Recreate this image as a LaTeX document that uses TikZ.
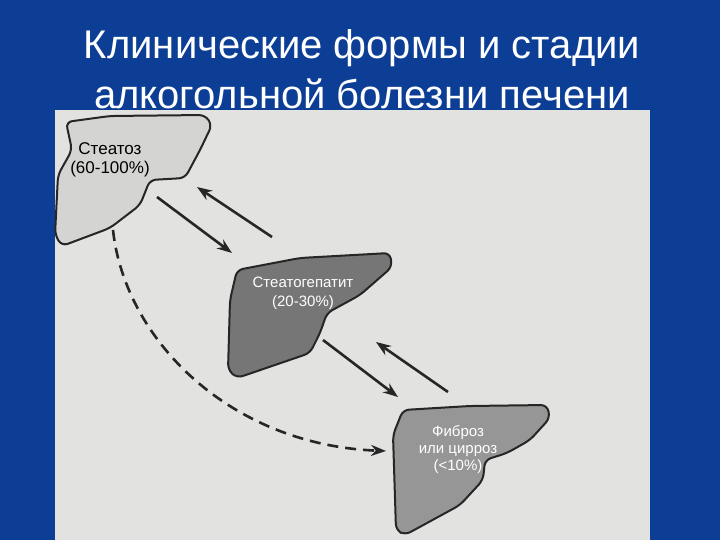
\documentclass[tikz,border=0pt]{standalone}
\usepackage{fontspec}
\setmainfont{Liberation Sans}
\usetikzlibrary{arrows.meta}
\definecolor{slide}{RGB}{12,62,150}
\definecolor{paper}{RGB}{226,226,224}
\definecolor{liverA}{RGB}{212,212,210}
\definecolor{liverB}{RGB}{118,118,118}
\definecolor{liverC}{RGB}{150,150,150}
\tikzset{
  liver/.style={draw=black!85, line width=2pt, rounded corners=6pt},
  arr/.style={-{Stealth[length=15pt,width=11pt]}, line width=2.6pt, black!85},
  darr/.style={arr, dash pattern=on 11pt off 7pt},
  lbl/.style={align=center, font=\fontsize{17}{19}\selectfont},
  title/.style={text=white, font=\fontsize{40}{44}\selectfont}
}
\begin{document}
\begin{tikzpicture}[x=1pt,y=-1pt]
\useasboundingbox (0,0) rectangle (720,540);
\fill[slide] (0,0) rectangle (720,540);
\node[title] (t1) at (362,48) {Клинические формы и стадии};
\node[title] (t2) at (362,94) {алкогольной болезни печени};
\fill[paper] (55,110) rectangle (650,540);
% livers
\filldraw[liver, fill=liverA] (66,122) -- (110,116) -- (205,115) -- (212,125) -- (200,150) -- (185,178) -- (150,180) -- (140,205) -- (110,228) -- (62,246) -- (55,235) -- (58,175) -- (72,150) -- cycle;
\filldraw[liver, fill=liverB] (237,270) -- (300,258) -- (390,253) -- (392,267) -- (360,295) -- (327,313) -- (320,333) -- (310,353) -- (237,378) -- (228,370) -- (230,300) -- cycle;
\filldraw[liver, fill=liverC] (403,410) -- (470,406) -- (547,405) -- (550,418) -- (530,440) -- (507,453) -- (485,460) -- (483,480) -- (460,505) -- (405,535) -- (396,530) -- (393,435) -- cycle;
\node[lbl] (s) at (110,160) {Стеатоз\\(60-100\%)};
\node[lbl, text=white, font=\fontsize{15}{19}\selectfont] (sh) at (303,293) {Стеатогепатит\\(20-30\%)};
\node[lbl, text=white, font=\fontsize{15}{17}\selectfont] (f) at (458,450) {Фиброз\\или цирроз\\(<10\%)};
% arrows
\coordinate (a1) at (157,197); \coordinate (a2) at (232,253);
\coordinate (b1) at (272,237); \coordinate (b2) at (197,187);
\coordinate (c1) at (323,340); \coordinate (c2) at (398,397);
\coordinate (d1) at (448,392); \coordinate (d2) at (376,342);
\coordinate (e1) at (113,230); \coordinate (e2) at (386,451);
\draw[arr] (a1) -- (a2);
\draw[arr] (b1) -- (b2);
\draw[arr] (c1) -- (c2);
\draw[arr] (d1) -- (d2);
\draw[darr] (e1) .. controls (125,340) and (230,445) .. (e2);
\end{tikzpicture}
\end{document}
